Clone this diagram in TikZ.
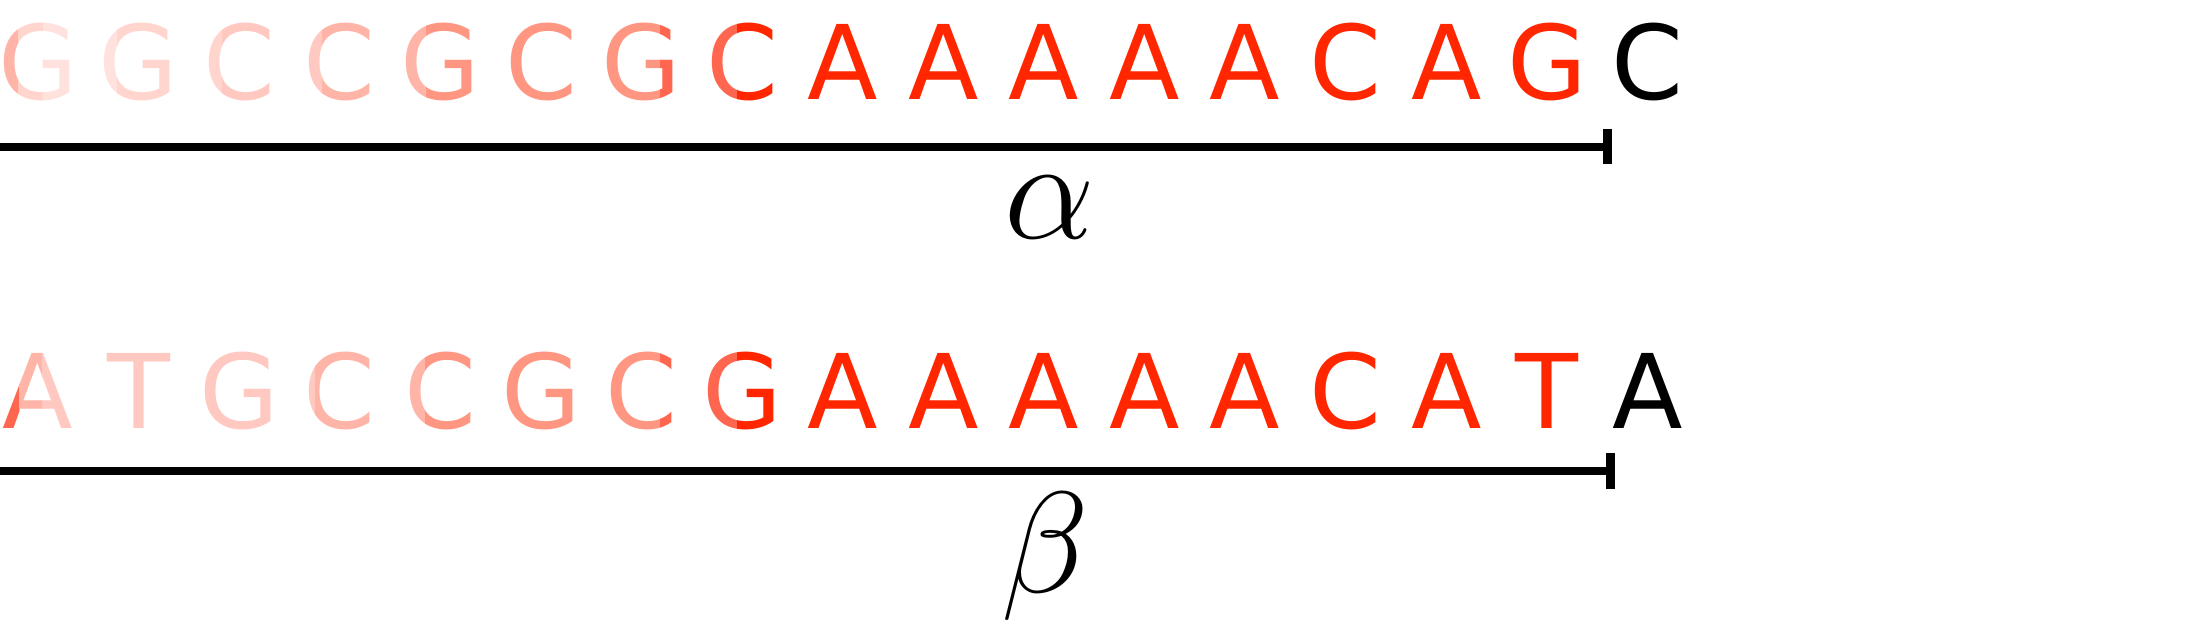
\RequirePackage{fix-cm}
\documentclass[tikz,border=0pt]{standalone}
\usepackage{fontspec}
\newfontfamily\dnafont{DejaVu Sans}
\definecolor{cR}{RGB}{255,38,0}
\definecolor{cQ}{RGB}{255,102,80}
\definecolor{cP}{RGB}{255,150,130}
\definecolor{cO}{RGB}{255,180,168}
\definecolor{cN}{RGB}{255,200,192}
\definecolor{cM}{RGB}{255,213,206}
\definecolor{cL}{RGB}{255,226,222}
\newcommand\seqrow[4]{%
  \foreach \ch [count=\i] in {#4}
    \node[letter,text=#3] (#1\i) at ({38+100.6*(\i-1)},#2) {\ch};}
\begin{document}
\begin{tikzpicture}[x=0.5pt,y=-0.5pt,
  letter/.style={anchor=base,inner sep=0pt,font=\dnafont\fontsize{51.5}{60}\selectfont},
  mathlbl/.style={anchor=base,inner sep=0pt,font=\fontsize{72}{82}\selectfont},
  bar/.style={line width=4.15pt}]
\useasboundingbox (0,0) rectangle (2195,641);
% top row
\foreach \a/\b/\c in {0/18/cO,18/43/cM,43/117/cL,117/222/cM,222/322/cN,322/426/cO,426/660/cP,660/737/cQ,737/1600/cR,1600/2195/black}{
  \begin{scope}
    \clip (\a,0) rectangle (\b,300);
    \seqrow{t}{100}{\c}{G,G,C,C,G,C,G,C,A,A,A,A,A,C,A,G,C}
  \end{scope}}
% bottom row
\foreach \a/\b/\c in {0/19/cQ,19/42/cO,42/315/cN,315/425/cO,425/660/cP,660/737/cQ,737/1600/cR,1600/2195/black}{
  \begin{scope}
    \clip (\a,320) rectangle (\b,450);
    \seqrow{b}{428.5}{\c}{A,T,G,C,C,G,C,G,A,A,A,A,A,C,A,T,A}
  \end{scope}}
% bars
\coordinate (a0) at (0,147);
\coordinate (a1) at (1607.5,147);
\coordinate (a2) at (1607.5,129);
\coordinate (a3) at (1607.5,164.5);
\draw[bar] (a0) -- (a1);
\draw[bar] (a2) -- (a3);
\coordinate (b0) at (0,471);
\coordinate (b1) at (1610.5,471);
\coordinate (b2) at (1610.5,453);
\coordinate (b3) at (1610.5,488.5);
\draw[bar] (b0) -- (b1);
\draw[bar] (b2) -- (b3);
% labels
\node[mathlbl] (alpha) at (1050,238.5) {$\alpha$};
\node[mathlbl] (beta) at (1045,592) {$\beta$};
\end{tikzpicture}
\end{document}
